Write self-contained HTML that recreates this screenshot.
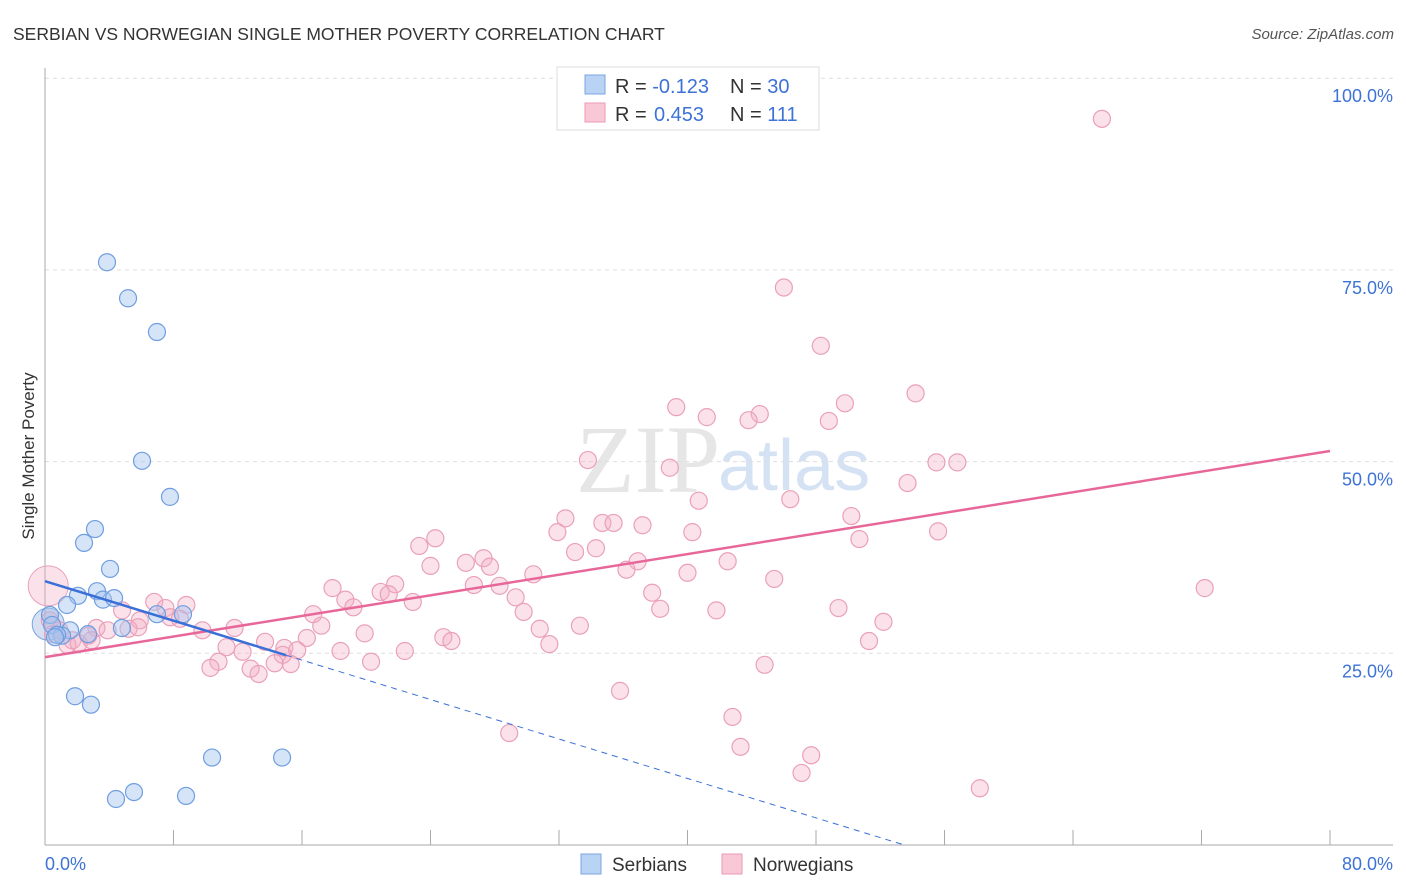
<!DOCTYPE html>
<html><head><meta charset="utf-8"><style>
body{margin:0;background:#fff;font-family:"Liberation Sans",sans-serif;}
svg{display:block}
</style></head><body>
<svg id="chart" width="1406" height="892" xmlns="http://www.w3.org/2000/svg">
<text x="13" y="40" font-size="17.5" fill="#333">SERBIAN VS NORWEGIAN SINGLE MOTHER POVERTY CORRELATION CHART</text>
<text x="1394" y="39" font-size="15" fill="#555" text-anchor="end" font-style="italic">Source: ZipAtlas.com</text>
<text x="720" y="492" font-size="96" fill="#e6e6e6" text-anchor="end" font-family="Liberation Serif">ZIP</text>
<text x="718" y="490" font-size="72" fill="#d4e2f4">atlas</text>
<g id="grid"></g>
<g id="axes"></g>
<g id="pts"></g>
<g id="lines"></g>
<text transform="translate(34,456) rotate(-90)" font-size="17" fill="#333" text-anchor="middle">Single Mother Poverty</text>
<g>
<rect x="557" y="67" width="262" height="63" fill="#fff" stroke="#ddd"/>
<rect x="585" y="75" width="20" height="19" fill="#b9d3f4" stroke="#7aa6e0"/>
<rect x="585" y="103" width="20" height="19" fill="#f9c8d7" stroke="#ec9ab5"/>
<text x="615" y="93" font-size="20" fill="#333">R = <tspan fill="#3d73d6">-0.123</tspan></text>
<text x="730" y="93" font-size="20" fill="#333">N = <tspan fill="#3d73d6">30</tspan></text>
<text x="615" y="121" font-size="20" fill="#333">R = <tspan fill="#3d73d6" x="654">0.453</tspan></text>
<text x="730" y="121" font-size="20" fill="#333">N = <tspan fill="#3d73d6">111</tspan></text>
</g>
<g>
<rect x="581" y="854" width="20" height="20" fill="#b9d3f4" stroke="#7aa6e0"/>
<text x="612" y="871" font-size="19" fill="#333">Serbians</text>
<rect x="722" y="854" width="20" height="20" fill="#f9c8d7" stroke="#ec9ab5"/>
<text x="753" y="871" font-size="19" fill="#333">Norwegians</text>
</g>
</svg>
<script>
const yTicks=[25,50,75,100];
const yTickLabels=["25.0%","50.0%","75.0%","100.0%"];
const xTickLabels=["0.0%","80.0%"];
const serbX=[3.86,5.17,6.97,6.04,7.78,3.11,2.43,4.05,3.24,2.05,3.61,4.30,1.37,0.31,0.44,1.56,1.06,0.75,2.68,4.79,6.97,8.59,1.87,2.86,10.4,14.76,4.42,5.54,8.78,0.62];
const serbY=[76.0,71.3,66.9,50.1,45.4,41.2,39.4,36.0,33.1,32.5,32.0,32.2,31.3,30.0,28.7,28.0,27.3,27.4,27.5,28.3,30.1,30.1,19.4,18.3,11.4,11.4,6.0,6.9,6.4,27.1];
const norX=[65.8,46.0,48.3,54.2,49.8,39.3,41.2,44.5,43.8,48.8,33.8,38.9,55.5,56.8,53.7,40.7,46.4,50.2,32.4,34.7,35.4,37.2,31.9,40.3,55.6,24.3,23.3,50.7,34.3,33.0,27.3,26.2,27.7,24.0,36.9,42.5,36.2,30.4,40.0,45.4,21.8,26.7,28.3,17.9,20.9,21.4,37.8,29.3,18.7,22.9,8.8,6.8,7.5,4.8,19.2,38.3,41.8,49.4,29.8,16.7,7.8,8.4,5.9,3.2,3.9,5.2,5.8,9.8,11.8,17.2,33.3,52.2,30.8,19.9,24.8,25.3,16.3,2.7,1.7,1.4,2.1,13.7,31.4,51.3,11.3,14.9,15.7,12.3,18.4,22.4,14.8,10.8,20.3,14.3,15.3,10.3,12.8,13.3,44.8,35.8,42.8,28.9,43.3,47.7,47.1,58.2,72.2,0.3,0.9,2.9,0.5];
const norY=[94.7,72.7,65.1,58.9,57.6,57.1,55.8,56.2,55.4,55.3,50.2,49.2,49.9,49.9,47.2,44.9,45.1,42.9,42.6,42.0,42.0,41.7,40.8,40.8,40.9,40.0,39.0,39.9,38.7,38.2,37.4,36.8,36.3,36.4,37.0,37.0,35.9,35.3,35.5,34.7,34.0,33.9,33.8,33.5,33.0,32.7,32.9,32.3,32.0,31.7,31.3,31.7,30.9,30.6,31.0,30.8,30.6,30.9,30.4,30.1,29.7,29.5,29.3,28.3,28.0,28.2,28.4,28.0,28.3,28.6,28.6,29.1,28.2,27.6,27.1,26.6,27.0,27.3,26.7,26.1,26.3,26.5,26.2,26.6,25.8,25.7,25.4,25.2,25.3,25.3,24.8,23.9,23.9,23.7,23.6,23.1,23.0,22.3,23.5,20.1,16.7,14.6,12.8,11.7,9.4,7.4,33.5,29.3,28.0,26.7,27.5];
const serbTrend=[34.4,-0.643];
const norTrend=[24.5,0.336];
const NS="http://www.w3.org/2000/svg";
const X=v=>45+v*1285/80, Y=v=>845-v*7.668;
function mk(t,a,p){const e=document.createElementNS(NS,t);for(const k in a)e.setAttribute(k,a[k]);p.appendChild(e);return e;}
const grid=document.getElementById('grid'),axes=document.getElementById('axes'),pts=document.getElementById('pts'),lines=document.getElementById('lines');
yTicks.forEach((t,i)=>{
 const l=mk('line',{x1:45,x2:1393,y1:Y(t),y2:Y(t),stroke:'#ddd','stroke-dasharray':'4,4'},grid);
 
 
 const tx=mk('text',{x:1393,y:Y(t)+24,'font-size':18,fill:'#3d73d6','text-anchor':'end'},axes);
 tx.textContent=yTickLabels[i];
 
 
});
mk('line',{x1:45,x2:45,y1:68,y2:845,stroke:'#aaa'},axes);
mk('line',{x1:45,x2:1393,y1:845,y2:845,stroke:'#aaa'},axes);
for(let i=0;i<=10;i++){const tk=mk('line',{x1:X(i*8),x2:X(i*8),y1:830,y2:845,stroke:'#aaa'},axes);
 
 }
[[0,'start',45],[80,'end',1393]].forEach((d,i)=>{const tx=mk('text',{x:d[2],y:870,'font-size':18,fill:'#3d73d6','text-anchor':d[1]},axes);tx.textContent=xTickLabels[i];
 
 });
// big circles
mk('circle',{cx:X(norX[0]*0+0.2),cy:Y(33.8),r:20,fill:'rgba(244,172,196,0.35)',stroke:'#eaa0ba'},pts);
mk('circle',{cx:X(0.2),cy:Y(28.8),r:16,fill:'rgba(140,170,220,0.35)',stroke:'#7aa6e0'},pts);
norX.forEach((x,i)=>{const c=mk('circle',{cx:X(x),cy:Y(norY[i]),r:8.5,fill:'rgba(244,172,196,0.35)',stroke:'#eaa0ba','stroke-width':1.2},pts);
 
 });
serbX.forEach((x,i)=>{const c=mk('circle',{cx:X(x),cy:Y(serbY[i]),r:8.5,fill:'rgba(164,196,240,0.45)',stroke:'#6f9ee0','stroke-width':1.2},pts);
 
 });
const nl=mk('line',{x1:X(0),y1:Y(norTrend[0]),x2:X(80),y2:Y(norTrend[0]+80*norTrend[1]),stroke:'#e8679a','stroke-width':2.5},lines);


const sl=mk('line',{x1:X(0),y1:Y(serbTrend[0]),x2:X(15),y2:Y(serbTrend[0]+15*serbTrend[1]),stroke:'#3a6fd8','stroke-width':2.5},lines);


const x0=-serbTrend[0]/serbTrend[1];
const sd=mk('line',{x1:X(15),y1:Y(serbTrend[0]+15*serbTrend[1]),x2:X(x0),y2:Y(0),stroke:'#3a6fd8','stroke-width':1,'stroke-dasharray':'6,5'},lines);


</script>
</body></html>
